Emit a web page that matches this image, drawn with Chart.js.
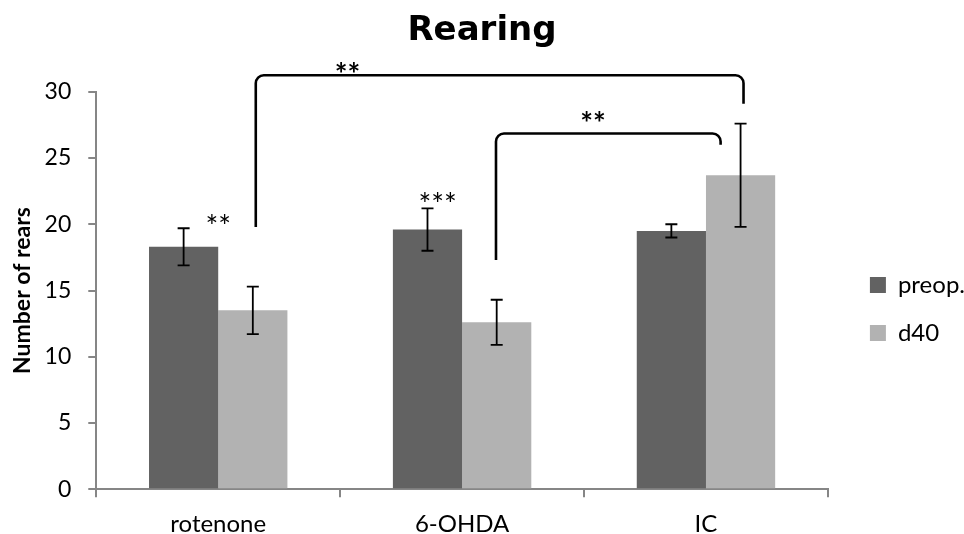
<!DOCTYPE html>
<html>
<head>
<meta charset="utf-8">
<title>Rearing</title>
<script src="https://cdn.jsdelivr.net/npm/chart.js@4.4.1/dist/chart.umd.min.js"></script>
<style>
  html, body { margin: 0; padding: 0; background: #fff; }
  #wrap { width: 964px; height: 534px; }
</style>
</head>
<body>
<div id="wrap"><canvas id="rearChart"></canvas></div>
<script>
// groups and mean number of rears (+/- SEM) before surgery and at day 40
const groups = ['rotenone', '6-OHDA', 'IC'];
const preop = [18.3, 19.6, 19.5];
const preopErr = [1.4, 1.6, 0.5];
const d40 = [13.5, 12.6, 23.7];
const d40Err = [1.8, 1.7, 3.9];
const yTicks = [0, 5, 10, 15, 20, 25, 30];

// significance marks: x in category units, y in rears
const starMarks = [
  { x: 0, y: 20.3, text: '**' },
  { x: 0.9, y: 21.96, text: '***' }
];
const brackets = [
  { from: 0.154, to: 2.154, top: 31.25, leftEnd: 19.8, rightEnd: 29.1, text: '**', textX: 0.53, textY: 31.79 },
  { from: 1.139, to: 2.06, top: 26.85, leftEnd: 17.3, rightEnd: 26.0, text: '**', textX: 1.537, textY: 28.1 }
];

const FONT = 'Lato, "Open Sans", sans-serif';
Chart.defaults.font.family = FONT;
Chart.defaults.color = '#000';

// draws the SEM whiskers on top of every bar
const errorBars = {
  id: 'errorBars',
  afterDatasetsDraw(chart) {
    const ctx = chart.ctx;
    const y = chart.scales.y;
    const errs = [preopErr, d40Err];
    ctx.save();
    ctx.strokeStyle = '#000';
    ctx.lineWidth = 1.8;
    chart.data.datasets.forEach((ds, i) => {
      chart.getDatasetMeta(i).data.forEach((bar, j) => {
        const hi = y.getPixelForValue(ds.data[j] + errs[i][j]);
        const lo = y.getPixelForValue(ds.data[j] - errs[i][j]);
        ctx.beginPath();
        ctx.moveTo(bar.x, hi); ctx.lineTo(bar.x, lo);
        ctx.moveTo(bar.x - 6, hi); ctx.lineTo(bar.x + 6, hi);
        ctx.moveTo(bar.x - 6, lo); ctx.lineTo(bar.x + 6, lo);
        ctx.stroke();
      });
    });
    ctx.restore();
  }
};

// asterisks and comparison brackets
const sigMarks = {
  id: 'sigMarks',
  afterDraw(chart) {
    const ctx = chart.ctx;
    const x = chart.scales.x;
    const y = chart.scales.y;
    // asterisk glyphs sit high in the line box, push them down to centre on y
    const starShift = 7;
    ctx.save();
    ctx.fillStyle = '#000';
    ctx.textAlign = 'center';
    ctx.textBaseline = 'middle';
    ctx.font = '30px ' + FONT;
    starMarks.forEach(m => {
      ctx.fillText(m.text, x.getPixelForValue(m.x), y.getPixelForValue(m.y) + starShift);
    });

    ctx.strokeStyle = '#000';
    ctx.lineWidth = 2.6;
    ctx.lineJoin = 'round';
    ctx.font = 'bold 30px ' + FONT;
    brackets.forEach(b => {
      const x0 = x.getPixelForValue(b.from);
      const x1 = x.getPixelForValue(b.to);
      const top = y.getPixelForValue(b.top);
      ctx.beginPath();
      ctx.moveTo(x0, y.getPixelForValue(b.leftEnd));
      ctx.arcTo(x0, top, x0 + 10, top, 8);
      ctx.arcTo(x1, top, x1, top + 10, 8);
      ctx.lineTo(x1, y.getPixelForValue(b.rightEnd));
      ctx.stroke();
      ctx.fillText(b.text, x.getPixelForValue(b.textX), y.getPixelForValue(b.textY) + starShift);
    });
    ctx.restore();
  }
};

new Chart(document.getElementById('rearChart'), {
  type: 'bar',
  data: {
    labels: groups,
    datasets: [
      { label: 'preop.', data: preop, backgroundColor: '#626262' },
      { label: 'd40', data: d40, backgroundColor: '#b2b2b2' }
    ]
  },
  options: {
    responsive: true,
    maintainAspectRatio: false,
    animation: false,
    datasets: { bar: { categoryPercentage: 0.5675, barPercentage: 1 } },
    layout: { padding: { left: -11, right: -11, top: 0, bottom: -18 } },
    plugins: {
      title: {
        display: true,
        text: 'Rearing',
        font: { family: '"DejaVu Sans", sans-serif', size: 34, weight: 'bold' },
        color: '#000',
        padding: { top: 11, bottom: 40 }
      },
      legend: {
        position: 'right',
        title: { display: true, text: ' ', font: { size: 10 }, padding: { top: 27, bottom: 27 } },
        labels: {
          boxWidth: 16,
          boxHeight: 16,
          padding: 24,
          font: { size: 24 },
          color: '#000'
        }
      },
      tooltip: { enabled: false }
    },
    scales: {
      x: {
        offset: true,
        grid: { offset: true, drawOnChartArea: false, tickLength: 8, color: '#868686', lineWidth: 2 },
        border: { color: '#868686', width: 2 },
        ticks: { font: { size: 24 }, padding: 13, color: '#000' }
      },
      y: {
        min: 0,
        max: 30,
        afterBuildTicks(scale) {
          scale.ticks = yTicks.map(v => ({ value: v }));
        },
        grid: { drawOnChartArea: false, tickLength: 8, color: '#868686', lineWidth: 2 },
        border: { color: '#868686', width: 2 },
        ticks: { font: { size: 23 }, padding: 17, color: '#000' },
        title: {
          display: true,
          text: 'Number of rears',
          font: { size: 23, weight: 'bold' },
          padding: { top: 20, bottom: -9 }
        }
      },
      // keeps a narrow gap between the plot and the legend
      gap: {
        position: 'right',
        display: true,
        grid: { display: false },
        ticks: { display: false },
        border: { display: false },
        afterFit(scale) { scale.width = 18; }
      }
    }
  },
  plugins: [errorBars, sigMarks]
});
</script>
</body>
</html>
